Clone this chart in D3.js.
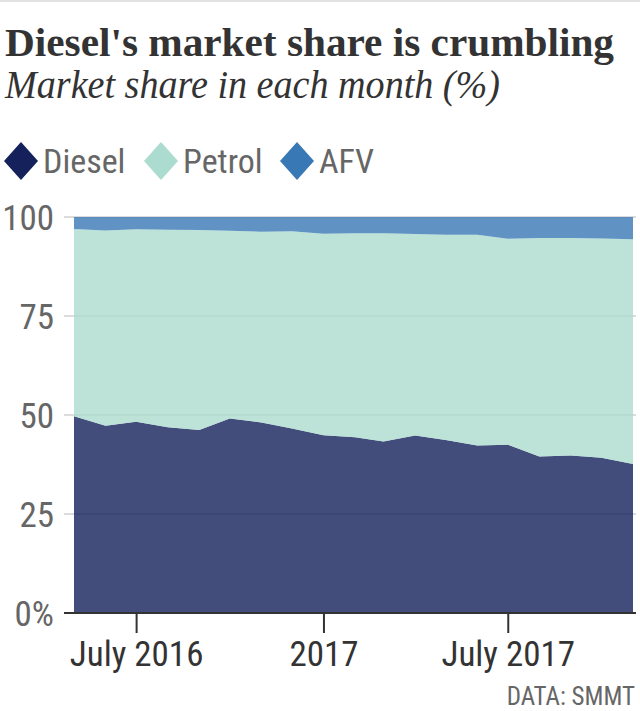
<!DOCTYPE html>
<html>
<head>
<meta charset="utf-8">
<script src="https://cdn.jsdelivr.net/npm/d3@7"></script>
<style>
  html, body { margin: 0; padding: 0; background: #fff; }
  svg { display: block; }
  .sans { font-family: "Liberation Sans Narrow", "Roboto Condensed", "DejaVu Sans Condensed", Roboto, sans-serif; }
  .serif { font-family: "Liberation Serif", "DejaVu Serif", serif; }
</style>
</head>
<body>
<svg id="chart" width="640" height="711"></svg>
<script>
// ---- data ----
const months = ["2016-05","2016-06","2016-07","2016-08","2016-09","2016-10","2016-11","2016-12",
                "2017-01","2017-02","2017-03","2017-04","2017-05","2017-06","2017-07","2017-08",
                "2017-09","2017-10","2017-11"];
const diesel = [49.7, 47.3, 48.3, 46.9, 46.2, 49.1, 48.1, 46.6, 44.9, 44.4, 43.3, 44.8, 43.7, 42.3, 42.5, 39.5, 39.8, 39.2, 37.6];
const petrol = [47.3, 49.3, 48.6, 49.9, 50.5, 47.4, 48.2, 49.8, 50.9, 51.5, 52.6, 50.9, 51.8, 53.2, 52.0, 55.2, 54.9, 55.4, 56.8];
const afv    = [3.0, 3.4, 3.1, 3.2, 3.3, 3.5, 3.7, 3.6, 4.2, 4.1, 4.1, 4.3, 4.5, 4.5, 5.5, 5.3, 5.3, 5.4, 5.6];
const seriesNames = ["Diesel", "Petrol", "AFV"];
const seriesColors = ["#14215a", "#acdccf", "#3878b5"];
const yTicks = [0, 25, 50, 75, 100];
const xTickDates = ["2016-07", "2017-01", "2017-07"];
const xTickLabels = ["July 2016", "2017", "July 2017"];
const title = "Diesel's market share is crumbling";
const subtitle = "Market share in each month (%)";
const source = "DATA: SMMT";

// ---- build ----
const parse = d3.timeParse("%Y-%m");
const rows = months.map((m, i) => ({date: parse(m), Diesel: diesel[i], Petrol: petrol[i], AFV: afv[i]}));

const svg = d3.select("#chart");

const x = d3.scaleTime().domain(d3.extent(rows, d => d.date)).range([74, 633]);
const y = d3.scaleLinear().domain([0, 100]).range([613, 217]);
const color = d3.scaleOrdinal().domain(seriesNames).range(seriesColors);

// top rule
svg.append("line").attr("x1", 0).attr("x2", 640).attr("y1", 1).attr("y2", 1)
  .attr("stroke", "#e2e2e2").attr("stroke-width", 2);

// title & subtitle
function fitText(sel, w) {
  const len = sel.node().getComputedTextLength();
  if (len > 0) sel.attr("textLength", w).attr("lengthAdjust", "spacingAndGlyphs");
}
const t1 = svg.append("text").attr("class", "serif").attr("x", 5).attr("y", 56)
  .attr("font-size", 41).attr("font-weight", "bold").attr("fill", "#333").text(title);
fitText(t1, 609);
const t2 = svg.append("text").attr("class", "serif").attr("x", 5).attr("y", 98)
  .attr("font-size", 39).attr("font-style", "italic").attr("fill", "#333").text(subtitle);
fitText(t2, 495);

// legend
const legendX = [21, 161, 297];
const lg = svg.append("g").attr("class", "sans");
seriesNames.forEach((n, i) => {
  const g = lg.append("g").attr("transform", `translate(${legendX[i]},161)`);
  g.append("path").attr("d", "M0,-19L17,0L0,19L-17,0Z").attr("fill", color(n));
  g.append("text").attr("x", 22).attr("y", 12).attr("font-size", 34).attr("fill", "#666").text(n);
});

// gridlines
const grid = svg.append("g");
grid.selectAll("line").data(yTicks.filter(d => d > 0)).join("line")
  .attr("x1", 64).attr("x2", 636).attr("y1", d => y(d)).attr("y2", d => y(d))
  .attr("stroke", "#dcdcdc").attr("stroke-width", 2);

// stacked areas
const stack = d3.stack().keys(seriesNames);
const stacked = stack(rows);
const area = d3.area().x(d => x(d.data.date)).y0(d => y(d[0])).y1(d => y(d[1]));
svg.append("g").selectAll("path").data(stacked).join("path")
  .attr("d", area).attr("fill", d => color(d.key)).attr("fill-opacity", 0.8);

// y axis labels
const yAxis = d3.axisLeft(y).tickValues(yTicks).tickSize(0).tickPadding(0)
  .tickFormat(d => d === 0 ? "0%" : d);
const yg = svg.append("g").attr("transform", "translate(54,0)").call(yAxis);
yg.select(".domain").remove();
yg.selectAll("text").attr("class", "sans").attr("font-size", 35).attr("fill", "#666")
  .attr("font-family", null).attr("dy", "0.36em");

// baseline
svg.append("line").attr("x1", 64).attr("x2", 636).attr("y1", y(0)).attr("y2", y(0))
  .attr("stroke", "#333").attr("stroke-width", 2);

// x axis
const xAxis = d3.axisBottom(x).tickValues(xTickDates.map(parse)).tickSize(20).tickPadding(8)
  .tickFormat((d, i) => xTickLabels[i]);
const xg = svg.append("g").attr("transform", `translate(0,${y(0)})`).call(xAxis);
xg.select(".domain").remove();
xg.selectAll(".tick line").attr("stroke", "#333").attr("stroke-width", 2);
xg.selectAll("text").attr("class", "sans").attr("font-family", null).attr("font-size", 35)
  .attr("fill", "#333").attr("dy", "0.71em");

// source
svg.append("text").attr("class", "sans").attr("x", 635).attr("y", 705).attr("text-anchor", "end")
  .attr("font-size", 25).attr("fill", "#666").text(source);
</script>
</body>
</html>
